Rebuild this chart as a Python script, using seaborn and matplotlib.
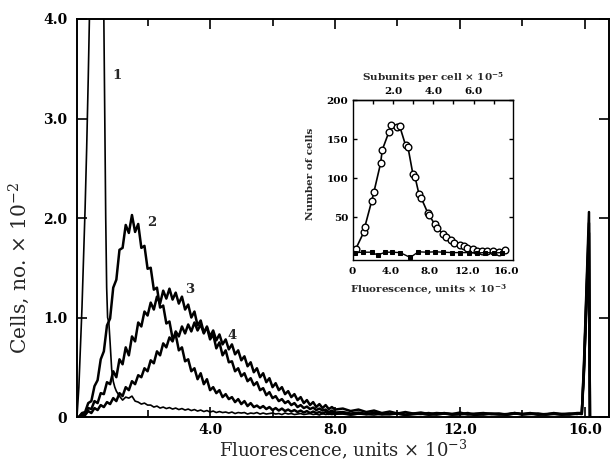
import numpy as np
import pandas as pd
import matplotlib
matplotlib.use("Agg")
import matplotlib.pyplot as plt
from matplotlib.ticker import FixedLocator
import seaborn as sns

# ---------------- data ----------------
# histogram channels (fluorescence units x 10^-3)
grid_body = np.round(np.linspace(-0.2, 8.0, 83), 2)
grid_tail = np.round(np.linspace(8.25, 15.75, 31), 2)
grid_spike = [15.9, 15.97, 16.05, 16.13, 16.16]

# histogram 1 (unlabelled cells): narrow peak near zero
c1_peak_x = [-0.26, -0.2, -0.15, -0.1, -0.05, 0.0, 0.05, 0.1, 0.15, 0.2, 0.3, 0.4,
             0.5, 0.55, 0.6, 0.63, 0.66, 0.69, 0.72, 0.76, 0.8, 0.85, 0.9, 0.95, 1.0]
c1_peak = [0.0, 0.3, 0.7, 1.1, 1.6, 2.1, 2.7, 3.4, 4.2, 5.0, 6.0, 6.5,
           6.0, 5.0, 4.0, 3.0, 2.0, 1.3, 1.0, 0.95, 0.75, 0.48, 0.36, 0.30, 0.26]
c1_body = [
    0.21, 0.17, 0.20, 0.19, 0.21, 0.16, 0.15, 0.13, 0.14, 0.12,
    0.12, 0.10, 0.11, 0.09, 0.10, 0.085, 0.095, 0.08, 0.09, 0.075,
    0.085, 0.07, 0.08, 0.065, 0.075, 0.06, 0.07, 0.055, 0.065, 0.05,
    0.06, 0.045, 0.055, 0.045, 0.05, 0.04, 0.05, 0.035, 0.045, 0.04,
    0.045, 0.03, 0.04, 0.035, 0.045, 0.03, 0.04, 0.03, 0.035, 0.04,
    0.03, 0.035, 0.025, 0.04, 0.03, 0.035, 0.025, 0.03, 0.035, 0.025,
    0.03, 0.035, 0.025, 0.03, 0.02, 0.035, 0.025, 0.03, 0.025, 0.03,
]
c1_tail = [
    0.03, 0.02, 0.03, 0.025, 0.02, 0.03, 0.025, 0.03, 0.02, 0.025,
    0.03, 0.02, 0.025, 0.03, 0.02, 0.025, 0.03, 0.025, 0.02, 0.03,
    0.025, 0.02, 0.03, 0.025, 0.03, 0.02, 0.025, 0.03, 0.02, 0.025,
    0.03,
]
c1_spike = [0.03, 0.4, 1.0, 1.6, 0.0]

# histograms 2-4 on the 0.1 channel grid
c2_body = [
    0.00, 0.04, 0.05, 0.14, 0.16, 0.31, 0.37, 0.58, 0.66, 0.92,
    0.99, 1.30, 1.38, 1.68, 1.70, 1.93, 1.85, 2.03, 1.86, 1.94,
    1.70, 1.72, 1.49, 1.50, 1.28, 1.30, 1.10, 1.12, 0.94, 0.96,
    0.79, 0.83, 0.67, 0.70, 0.56, 0.58, 0.46, 0.49, 0.38, 0.44,
    0.33, 0.38, 0.27, 0.30, 0.24, 0.27, 0.20, 0.23, 0.18, 0.20,
    0.15, 0.18, 0.13, 0.16, 0.11, 0.14, 0.10, 0.115, 0.09, 0.11,
    0.08, 0.10, 0.07, 0.09, 0.065, 0.085, 0.06, 0.075, 0.055, 0.07,
    0.05, 0.065, 0.045, 0.06, 0.04, 0.055, 0.04, 0.05, 0.035, 0.05,
    0.03, 0.045, 0.03,
]
c2_tail = [
    0.04, 0.025, 0.035, 0.03, 0.04, 0.025, 0.03, 0.035, 0.02, 0.03,
    0.035, 0.025, 0.03, 0.04, 0.025, 0.03, 0.03, 0.02, 0.035, 0.03,
    0.025, 0.03, 0.04, 0.025, 0.03, 0.035, 0.025, 0.03, 0.03, 0.025,
    0.035,
]
c2_spike = [0.03, 0.55, 1.3, 2.06, 0.0]

c3_body = [
    0.00, 0.03, 0.03, 0.09, 0.08, 0.16, 0.14, 0.24, 0.23, 0.35,
    0.33, 0.46, 0.40, 0.58, 0.53, 0.70, 0.62, 0.81, 0.76, 0.95,
    0.91, 1.06, 1.02, 1.15, 1.08, 1.21, 1.14, 1.27, 1.19, 1.29,
    1.18, 1.25, 1.14, 1.21, 1.08, 1.13, 1.00, 1.06, 0.92, 0.97,
    0.85, 0.90, 0.78, 0.83, 0.69, 0.75, 0.62, 0.67, 0.55, 0.56,
    0.46, 0.49, 0.41, 0.44, 0.36, 0.39, 0.32, 0.35, 0.27, 0.29,
    0.22, 0.25, 0.19, 0.21, 0.16, 0.18, 0.14, 0.16, 0.12, 0.14,
    0.10, 0.12, 0.09, 0.105, 0.08, 0.095, 0.07, 0.085, 0.065, 0.075,
    0.05, 0.065, 0.045,
]
c3_tail = [
    0.05, 0.035, 0.045, 0.03, 0.04, 0.035, 0.03, 0.04, 0.025, 0.035,
    0.03, 0.04, 0.025, 0.035, 0.03, 0.03, 0.04, 0.025, 0.03, 0.035,
    0.03, 0.025, 0.035, 0.03, 0.04, 0.025, 0.03, 0.035, 0.025, 0.03,
    0.04,
]
c3_spike = [0.04, 0.5, 1.2, 1.85, 0.0]

c4_body = [
    0.00, 0.02, 0.02, 0.06, 0.04, 0.09, 0.07, 0.12, 0.10, 0.15,
    0.13, 0.19, 0.16, 0.24, 0.21, 0.30, 0.27, 0.36, 0.33, 0.42,
    0.40, 0.49, 0.46, 0.57, 0.54, 0.66, 0.62, 0.74, 0.70, 0.80,
    0.76, 0.86, 0.81, 0.91, 0.84, 0.93, 0.86, 0.95, 0.87, 0.93,
    0.84, 0.91, 0.81, 0.87, 0.77, 0.83, 0.73, 0.78, 0.68, 0.73,
    0.63, 0.67, 0.57, 0.61, 0.51, 0.55, 0.45, 0.49, 0.40, 0.44,
    0.35, 0.39, 0.30, 0.34, 0.27, 0.30, 0.23, 0.26, 0.20, 0.23,
    0.17, 0.20, 0.14, 0.17, 0.12, 0.15, 0.10, 0.13, 0.09, 0.12,
    0.08, 0.10, 0.075,
]
c4_tail = [
    0.085, 0.06, 0.075, 0.05, 0.065, 0.04, 0.055, 0.035, 0.05, 0.035,
    0.045, 0.03, 0.04, 0.035, 0.03, 0.045, 0.025, 0.035, 0.04, 0.03,
    0.035, 0.025, 0.04, 0.03, 0.035, 0.03, 0.025, 0.04, 0.03, 0.035,
    0.03,
]
c4_spike = [0.04, 0.45, 1.25, 1.95, 0.0]

curve_labels = ["1", "2", "3", "4"]
label_pos_x = [1.02, 2.14, 3.36, 4.70]
label_pos_y = [3.43, 1.95, 1.28, 0.82]

# inset: cells per fluorescence interval
open_x = [0.31, 1.18, 1.28, 1.98, 2.22, 2.92, 3.09, 3.78, 4.03, 4.66, 4.90, 5.52,
          5.76, 6.28, 6.49, 6.90, 7.16, 7.84, 7.95, 8.54, 8.82, 9.45, 9.69, 10.28,
          10.52, 11.18, 11.59, 11.95, 12.57, 12.99, 13.51, 14.03, 14.66, 15.24, 15.83]
open_y = [8.5, 31, 37.6, 70, 82, 119, 136, 159, 168, 165, 166.7, 142,
          140, 105, 102, 80, 74, 55, 53, 41, 35.5, 28, 25, 20,
          17, 14, 13, 11, 8.5, 7, 6.5, 6, 6, 5.5, 7.7]
filled_x = [0.26, 1.13, 2.0, 2.6, 3.4, 4.1, 4.95, 6.0, 6.86, 7.73, 8.6, 9.46,
            10.33, 11.2, 12.07, 12.94, 13.8, 14.67, 15.5]
filled_y = [4.5, 5, 5, 1.3, 5, 5, 4.5, -1.7, 5.5, 5, 5.5, 5,
            4.5, 4.5, 4.5, 4, 4.5, 4, 4.5]

# ---------------- tables ----------------
def histogram_frame(name, xs, ys):
    return pd.DataFrame({"fluorescence": np.asarray(xs, float),
                         "cells": np.asarray(ys, float),
                         "histogram": name})

body_hi = grid_body[grid_body > 1.05]
df1 = histogram_frame("1", list(c1_peak_x) + list(body_hi) + list(grid_tail) + grid_spike,
                      c1_peak + c1_body + c1_tail + c1_spike)
df_rest = pd.concat([
    histogram_frame("2", list(grid_body) + list(grid_tail) + grid_spike, c2_body + c2_tail + c2_spike),
    histogram_frame("3", list(grid_body) + list(grid_tail) + grid_spike, c3_body + c3_tail + c3_spike),
    histogram_frame("4", list(grid_body) + list(grid_tail) + grid_spike, c4_body + c4_tail + c4_spike),
], ignore_index=True)
df_open = pd.DataFrame({"fluorescence": open_x, "cells": open_y})
df_filled = pd.DataFrame({"fluorescence": filled_x, "cells": filled_y})

# ---------------- figure ----------------
sns.set_theme(style="ticks")
plt.rcParams["font.family"] = ["DejaVu Serif"]
plt.rcParams["mathtext.fontset"] = "dejavuserif"
plt.rcParams["axes.linewidth"] = 1.4

fig = plt.figure(figsize=(6.11, 4.61), dpi=100)
ax = fig.add_axes([0.126, 0.0954, 0.8707, 0.8634])

sns.lineplot(data=df1, x="fluorescence", y="cells", estimator=None, sort=False,
             color="black", linewidth=1.2, ax=ax, legend=False)
sns.lineplot(data=df_rest, x="fluorescence", y="cells", units="histogram",
             estimator=None, sort=False, color="black", linewidth=1.8, ax=ax,
             legend=False)

ax.set_xlim(-0.26, 16.77)
ax.set_ylim(0, 4.0)
ax.set_xticks([4, 8, 12, 16])
ax.set_xticklabels(["4.0", "8.0", "12.0", "16.0"])
ax.xaxis.set_minor_locator(FixedLocator([2, 6, 10, 14]))
ax.set_yticks([0, 1, 2, 3, 4])
ax.set_yticklabels(["0", "1.0", "2.0", "3.0", "4.0"])
ax.tick_params(axis="both", which="both", direction="in", top=True, right=True,
               length=7, width=1.2, labelsize=10, pad=7, colors="black")
ax.tick_params(axis="x", which="both", pad=4)
ax.tick_params(axis="x", which="minor", length=5)
for lab in ax.get_xticklabels() + ax.get_yticklabels():
    lab.set_fontweight("bold")
for sp in ax.spines.values():
    sp.set_color("black")
    sp.set_linewidth(1.4)

ax.set_xlabel(r"Fluorescence, units $\times\ 10^{-3}$", fontsize=13)
ax.set_ylabel(r"Cells, no. $\times\ 10^{-2}$", fontsize=14.5)
ax.xaxis.set_label_coords(0.5, -0.052)
ax.yaxis.set_label_coords(-0.085, 0.375)

for t, x, y in zip(curve_labels, label_pos_x, label_pos_y):
    ax.text(x, y, t, fontsize=9.5, fontweight="bold", ha="center", va="center")

# ---------------- inset ----------------
axi = fig.add_axes([0.577, 0.436, 0.2627, 0.347])
sns.lineplot(data=df_open, x="fluorescence", y="cells", estimator=None, sort=False,
             color="black", linewidth=1.2, marker="o", markersize=4.8,
             markerfacecolor="white", markeredgecolor="black", markeredgewidth=1.0,
             ax=axi, legend=False)
sns.lineplot(data=df_filled, x="fluorescence", y="cells", estimator=None, sort=False,
             color="black", linewidth=1.0, marker="s", markersize=2.6,
             markerfacecolor="black", markeredgecolor="black", ax=axi, legend=False)
axi.set_xlim(0, 16.7)
axi.set_ylim(-5, 200)
axi.set_xticks([0, 4, 8, 12, 16])
axi.set_xticklabels(["0", "4.0", "8.0", "12.0", "16.0"])
axi.set_yticks([50, 100, 150, 200])
axi.set_yticklabels(["50", "100", "150", "200"])
axi.tick_params(axis="both", direction="in", right=True, top=False, length=3,
                width=1.0, labelsize=7.5, pad=3, colors="black")
axi.tick_params(axis="x", length=0, pad=5)
for lab in axi.get_xticklabels() + axi.get_yticklabels():
    lab.set_fontweight("bold")
for sp in axi.spines.values():
    sp.set_color("black")
    sp.set_linewidth(1.0)
axi.set_xlabel(r"Fluorescence, units $\mathbf{\times\ 10^{-3}}$", fontsize=7.5,
               fontweight="bold")
axi.set_ylabel("Number of cells", fontsize=7.5, fontweight="bold")
axi.xaxis.set_label_coords(0.47, -0.14)
axi.yaxis.set_label_coords(-0.234, 0.54)

sec = axi.secondary_xaxis("top", functions=(lambda f: f / 2.1, lambda s: s * 2.1))
sec.set_xticks([2, 4, 6])
sec.set_xticklabels(["2.0", "4.0", "6.0"])
sec.xaxis.set_minor_locator(FixedLocator([1, 3, 5, 7]))
sec.tick_params(axis="x", which="both", direction="in", length=3, width=1.0,
                labelsize=7.5, pad=3, colors="black")
for lab in sec.get_xticklabels():
    lab.set_fontweight("bold")
sec.spines["top"].set_linewidth(1.0)
sec.set_xlabel(r"Subunits per cell $\mathbf{\times\ 10^{-5}}$", fontsize=7.5,
               fontweight="bold", labelpad=4)

fig.savefig("out.png", dpi=100)
